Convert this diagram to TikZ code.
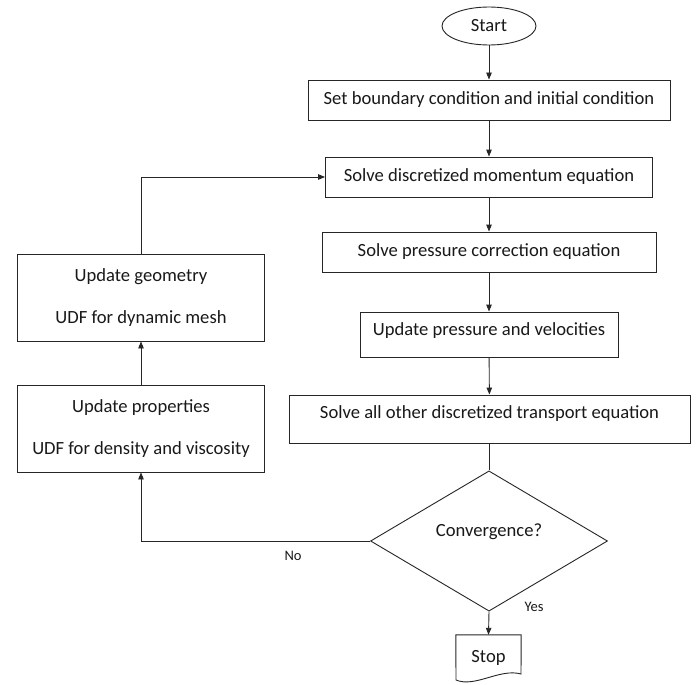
\documentclass[tikz,border=0pt]{standalone}
\usepackage{fontspec}
\setmainfont{Carlito}
\usetikzlibrary{arrows.meta,shapes.geometric}
\begin{document}
\begin{tikzpicture}[x=1pt,y=-1pt,
  every node/.style={font=\fontsize{18.6}{22}\selectfont, text=black!90},
  box/.style={draw=black!85, line width=0.9pt, rectangle, inner sep=0pt, align=center},
  conn/.style={draw=black!85, line width=0.9pt},
  arr/.style={conn, -{Triangle[length=7pt,width=5.5pt]}},
  lbl/.style={font=\fontsize{14.5}{16}\selectfont}
]
\useasboundingbox[fill=white] (0,0) rectangle (699,685);

\node[ellipse, draw=black!85, line width=0.9pt, minimum width=94pt, minimum height=38pt, inner sep=0pt] (start) at (489,26) {Start};
\node[box, minimum width=362pt, minimum height=40pt] (b1) at (489,100) {Set boundary condition and initial condition};
\node[box, minimum width=327pt, minimum height=40pt] (b2) at (489,177) {Solve discretized momentum equation};
\node[box, minimum width=334pt, minimum height=40pt] (b3) at (489,252) {Solve pressure correction equation};
\node[box, minimum width=258pt, minimum height=45pt, text height=23pt, text depth=22pt] (b4) at (489,334.5) {Update pressure and velocities};
\node[box, minimum width=401pt, minimum height=48pt, text height=23pt, text depth=25pt] (b5) at (489.5,419) {Solve all other discretized transport equation};
\node[diamond, draw=black!85, line width=0.9pt, minimum width=237pt, minimum height=118pt, inner sep=0pt, text height=12pt, text depth=22pt] (conv) at (489,541) {Convergence?};
\node[minimum width=65pt, minimum height=45pt, inner sep=0pt] (stop) at (488.5,657.5) {Stop};
\draw[conn] (stop.north west) -- (stop.north east) -- (521,674) .. controls (500,668) and (475,688) .. (456,680) -- cycle;

\node[box, minimum width=247pt, minimum height=87pt] (l1) at (141,297.5) {Update geometry\\[20pt]UDF for dynamic mesh};
\node[box, minimum width=247pt, minimum height=87pt] (l2) at (141,428.5) {Update properties\\[20pt]UDF for density and viscosity};

\node[lbl] (no) at (293,556) {No};
\node[lbl] (yes) at (534,607) {Yes};

\draw[arr] (start) -- (b1);
\draw[arr] (b1) -- (b2);
\draw[arr] (b2) -- (b3);
\draw[arr] (b3) -- (b4);
\draw[arr] (b4) -- (b5);
\draw[conn] (b5.south -| conv.north) -- (conv.north);
\draw[arr] (conv.south) -- (stop.north);
\draw[arr] (conv.west) -| (l2.south);
\draw[arr] (l2) -- (l1);
\draw[arr] (l1.north) |- (b2.west);
\end{tikzpicture}
\end{document}
